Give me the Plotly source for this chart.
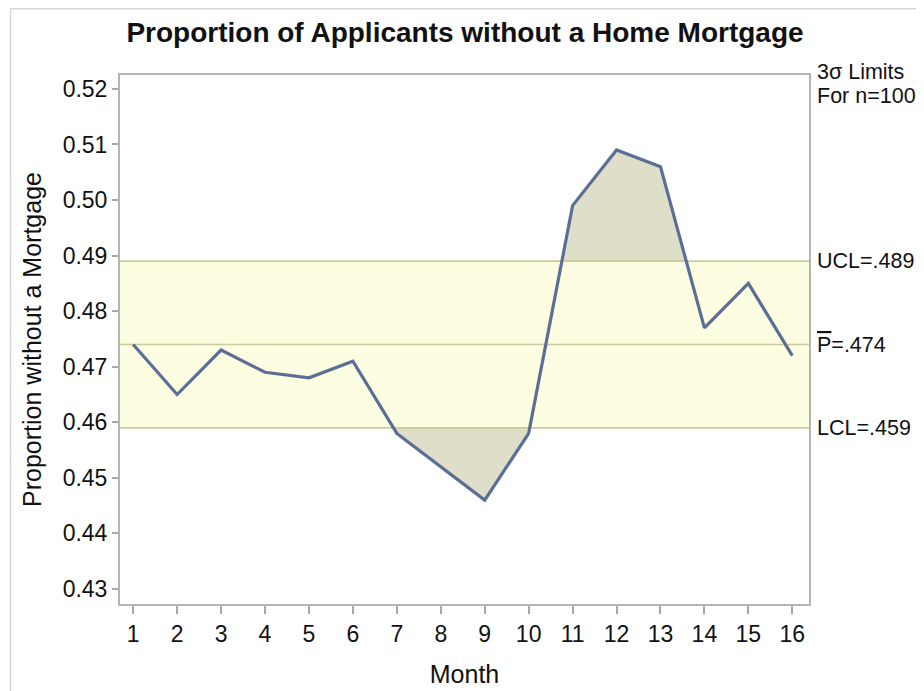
import plotly.graph_objects as go

months = list(range(1, 17))
proportions = [0.474, 0.465, 0.473, 0.469, 0.468, 0.471, 0.458, 0.452,
               0.446, 0.458, 0.499, 0.509, 0.506, 0.477, 0.485, 0.472]
ucl = 0.489
center = 0.474
lcl = 0.459
x_ticks = list(range(1, 17))
y_ticks = [0.43, 0.44, 0.45, 0.46, 0.47, 0.48, 0.49, 0.50, 0.51, 0.52]

XR = [0.7, 16.38]
YR = [0.4273, 0.5225]


def excursion_polys(xs, ys, limit, above):
    """Polygons between the series and a limit where it goes out of limits."""
    polys = []
    cur = []
    def out(v):
        return v > limit if above else v < limit
    for i in range(len(xs)):
        if out(ys[i]):
            if not cur:
                if i > 0:
                    x0, y0, x1, y1 = xs[i-1], ys[i-1], xs[i], ys[i]
                    t = (limit - y0) / (y1 - y0)
                    cur.append((x0 + t * (x1 - x0), limit))
            cur.append((xs[i], ys[i]))
        else:
            if cur:
                x0, y0, x1, y1 = xs[i-1], ys[i-1], xs[i], ys[i]
                t = (limit - y0) / (y1 - y0)
                cur.append((x0 + t * (x1 - x0), limit))
                polys.append(cur)
                cur = []
    if cur:
        cur.append((xs[-1], limit))
        polys.append(cur)
    return polys


fig = go.Figure()

# control band
fig.add_trace(go.Scatter(x=[XR[0], XR[1], XR[1], XR[0], XR[0]],
                         y=[lcl, lcl, ucl, ucl, lcl], fill="toself",
                         fillcolor="#fdfde2", line=dict(width=0),
                         mode="lines", hoverinfo="skip", showlegend=False))

for poly in excursion_polys(months, proportions, ucl, True) + \
        excursion_polys(months, proportions, lcl, False):
    px = [p[0] for p in poly] + [poly[0][0]]
    py = [p[1] for p in poly] + [poly[0][1]]
    fig.add_trace(go.Scatter(x=px, y=py, fill="toself", fillcolor="#dfdfc9",
                             line=dict(width=0), mode="lines",
                             hoverinfo="skip", showlegend=False))

for lv in [ucl, center, lcl]:
    fig.add_trace(go.Scatter(x=XR, y=[lv, lv], mode="lines",
                             line=dict(color="#c9cc9a", width=1.6),
                             hoverinfo="skip", showlegend=False))

fig.add_trace(go.Scatter(x=months, y=proportions, mode="lines",
                         line=dict(color="#5b6f96", width=3.2),
                         showlegend=False))

font = "Liberation Sans, Arial, sans-serif"

FW, FH = 916, 683
ML, MR, MT, MB = 112, 115, 67, 87
W, H = FW - ML - MR, FH - MT - MB

fig.update_layout(
    width=FW, height=FH,
    margin=dict(l=ML, r=MR, t=MT, b=MB),
    paper_bgcolor="white", plot_bgcolor="white",
    font=dict(family=font, size=23, color="#111111"),
    title=dict(text="<b>Proportion of Applicants without a Home Mortgage</b>",
               x=0.5007, xref="paper", xanchor="center",
               y=1 - 24 / FH, yanchor="middle",
               font=dict(size=28, family=font, color="#111111")),
    xaxis=dict(range=XR, tickvals=x_ticks, ticktext=[str(v) for v in x_ticks],
               showgrid=False, zeroline=False, ticks="outside", ticklen=8,
               tickcolor="#a8a8a8", tickwidth=1.5, automargin=False,
               showline=True, linecolor="#b4b4b4", linewidth=2, mirror=True,
               tickfont=dict(size=23),
               title=dict(text="Month", font=dict(size=25), standoff=20)),
    yaxis=dict(range=YR, tickvals=y_ticks,
               ticktext=[f"{v:.2f}" for v in y_ticks],
               showgrid=False, zeroline=False, ticks="outside", ticklen=6,
               tickcolor="#a8a8a8", tickwidth=1.5, automargin=False,
               showline=True, linecolor="#b4b4b4", linewidth=2, mirror=True,
               tickfont=dict(size=23),
               title=dict(text="Proportion without a Mortgage",
                          font=dict(size=25), standoff=14)),
)

ann_x = 1.009
RS = 21.5
fig.add_annotation(x=ann_x, xref="paper", y=(596 - 64) / H, yref="paper",
                   xanchor="left", yanchor="middle", text="3σ Limits",
                   showarrow=False, font=dict(size=RS))
fig.add_annotation(x=ann_x, xref="paper", y=(596 - 88) / H, yref="paper",
                   xanchor="left", yanchor="middle", text="For n=100",
                   showarrow=False, font=dict(size=RS))
fig.add_annotation(x=ann_x, xref="paper", y=ucl, yref="y", xanchor="left",
                   yanchor="middle", text="UCL=.489", showarrow=False,
                   font=dict(size=RS))
fig.add_annotation(x=ann_x, xref="paper", y=center, yref="y", xanchor="left",
                   yanchor="middle",
                   text="<span style='text-decoration:overline'>P</span>=.474",
                   showarrow=False, font=dict(size=RS))
fig.add_annotation(x=ann_x, xref="paper", y=lcl, yref="y", xanchor="left",
                   yanchor="middle", text="LCL=.459", showarrow=False,
                   font=dict(size=RS))

# outer frame lines (top and left)
fx = (2.5 - ML) / W
fy = (596 - 0.8) / H
fig.add_shape(type="line", xref="paper", yref="paper", x0=fx, x1=1.3,
              y0=fy, y1=fy, line=dict(color="#d4d4d4", width=1.5))
fig.add_shape(type="line", xref="paper", yref="paper", x0=fx, x1=fx,
              y0=fy, y1=-0.3, line=dict(color="#d4d4d4", width=1.5))

fig.write_html("out.html")
